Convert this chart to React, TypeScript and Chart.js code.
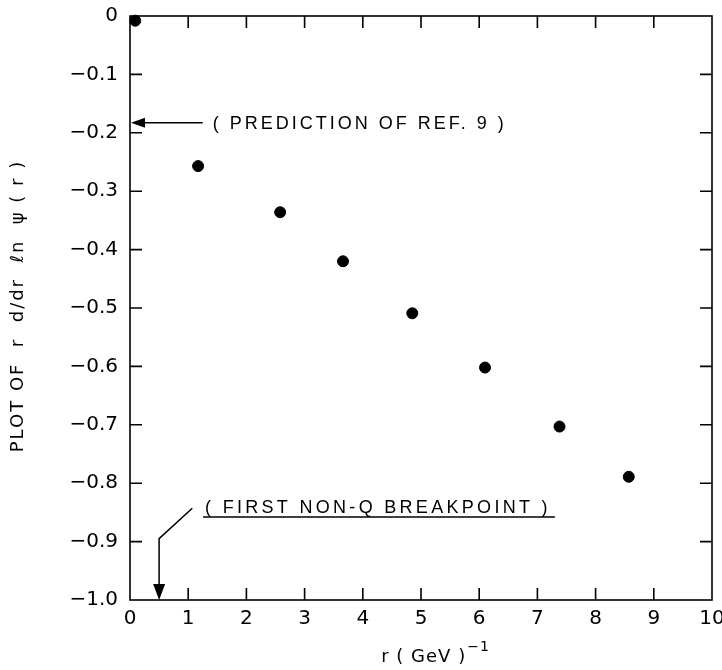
import React, { useEffect, useRef } from 'react';
import { Chart, registerables } from 'chart.js';

Chart.register(...registerables);

// ---- data ----
const rValues = [0.09, 1.17, 2.58, 3.66, 4.85, 6.1, 7.38, 8.57];
const logDerivValues = [-0.008, -0.257, -0.336, -0.42, -0.509, -0.602, -0.703, -0.789];

const xTickValues = [0, 1, 2, 3, 4, 5, 6, 7, 8, 9, 10];
const xTickLabels = ['0', '1', '2', '3', '4', '5', '6', '7', '8', '9', '10'];
const yTickValues = [0, -0.1, -0.2, -0.3, -0.4, -0.5, -0.6, -0.7, -0.8, -0.9, -1.0];
const yTickLabels = ['0', '−0.1', '−0.2', '−0.3', '−0.4', '−0.5', '−0.6', '−0.7', '−0.8', '−0.9', '−1.0'];

const xAxisTitle = 'r ( GeV )';
const xAxisTitleExponent = '−1';
const yAxisTitle = 'PLOT OF  r  d/dr  ℓn  ψ ( r )';

// annotations
const predictionValue = -0.183;
const predictionArrowTailR = 1.25;
const predictionLabelR = 1.42;
const predictionLabel = '( PREDICTION OF REF. 9 )';

const breakpointR = 0.5;
const breakpointElbowY = -0.895;
const breakpointLeaderEnd = [1.07, -0.843];
const breakpointLabelPos = [1.29, -0.842];
const breakpointUnderlineY = -0.858;
const breakpointLabel = '( FIRST NON-Q BREAKPOINT )';

const FONT = '"Liberation Sans", Arial, sans-serif';
const TICK_FONT = '"DejaVu Sans", sans-serif';

function arrowHead(ctx: CanvasRenderingContext2D, tx: number, ty: number, dx: number, dy: number, len: number, half: number) {
  const n = Math.hypot(dx, dy);
  const ux = dx / n, uy = dy / n;
  const bx = tx - ux * len, by = ty - uy * len;
  ctx.beginPath();
  ctx.moveTo(tx, ty);
  ctx.lineTo(bx - uy * half, by + ux * half);
  ctx.lineTo(bx + uy * half, by - ux * half);
  ctx.closePath();
  ctx.fill();
}

const framePlugin = {
  id: 'frameAndTicks',
  afterDatasetsDraw(chart: any) {
    const { ctx, chartArea: a, scales } = chart;
    const xs = scales.x, ys = scales.y;
    ctx.save();
    ctx.strokeStyle = '#000';
    ctx.fillStyle = '#000';
    ctx.lineWidth = 1.6;
    // frame
    ctx.strokeRect(a.left, a.top, a.right - a.left, a.bottom - a.top);
    // inward ticks
    const L = 12;
    ctx.beginPath();
    xTickValues.forEach((v) => {
      if (v === xTickValues[0] || v === xTickValues[xTickValues.length - 1]) return;
      const p = xs.getPixelForValue(v);
      ctx.moveTo(p, a.bottom); ctx.lineTo(p, a.bottom - L);
      ctx.moveTo(p, a.top); ctx.lineTo(p, a.top + L);
    });
    yTickValues.forEach((v) => {
      if (v === yTickValues[0] || v === yTickValues[yTickValues.length - 1]) return;
      const p = ys.getPixelForValue(v);
      ctx.moveTo(a.left, p); ctx.lineTo(a.left + L, p);
      ctx.moveTo(a.right, p); ctx.lineTo(a.right - L, p);
    });
    ctx.stroke();

    // prediction arrow
    ctx.lineWidth = 1.5;
    const py = ys.getPixelForValue(predictionValue);
    const tail = xs.getPixelForValue(predictionArrowTailR);
    const tip = xs.getPixelForValue(0);
    ctx.beginPath();
    ctx.moveTo(tail, py); ctx.lineTo(tip + 10, py);
    ctx.stroke();
    arrowHead(ctx, tip + 1, py, -1, 0, 14, 5);

    ctx.font = `18px ${FONT}`;
    (ctx as any).letterSpacing = '3px';
    ctx.textBaseline = 'middle';
    ctx.textAlign = 'left';
    ctx.fillText(predictionLabel, xs.getPixelForValue(predictionLabelR), py + 1);

    // breakpoint annotation
    const bx = xs.getPixelForValue(breakpointR);
    const elbowY = ys.getPixelForValue(breakpointElbowY);
    const bottom = ys.getPixelForValue(-1);
    ctx.beginPath();
    ctx.moveTo(xs.getPixelForValue(breakpointLeaderEnd[0]), ys.getPixelForValue(breakpointLeaderEnd[1]));
    ctx.lineTo(bx, elbowY);
    ctx.lineTo(bx, bottom - 12);
    ctx.stroke();
    arrowHead(ctx, bx, bottom, 0, 1, 16, 6);

    (ctx as any).letterSpacing = '3.3px';
    const lx = xs.getPixelForValue(breakpointLabelPos[0]);
    const ly = ys.getPixelForValue(breakpointLabelPos[1]);
    ctx.fillText(breakpointLabel, lx, ly);
    const w = ctx.measureText(breakpointLabel).width;
    const uy = ys.getPixelForValue(breakpointUnderlineY);
    ctx.beginPath();
    ctx.moveTo(lx - 2, uy); ctx.lineTo(lx + w + 4, uy);
    ctx.stroke();

    // axis titles
    ctx.font = `18px ${TICK_FONT}`;
    (ctx as any).letterSpacing = '2px';
    ctx.textAlign = 'center';
    ctx.textBaseline = 'middle';
    ctx.save();
    ctx.translate(a.left - 112, (a.top + a.bottom) / 2 - 2);
    ctx.rotate(-Math.PI / 2);
    ctx.fillText(yAxisTitle, 0, 0);
    ctx.restore();

    (ctx as any).letterSpacing = '1px';
    const cx = (a.left + a.right) / 2 + 14;
    const tw = ctx.measureText(xAxisTitle).width;
    ctx.font = `14px ${TICK_FONT}`;
    const ew = ctx.measureText(xAxisTitleExponent).width;
    const startX = cx - (tw + ew) / 2;
    ctx.textAlign = 'left';
    ctx.font = `18px ${TICK_FONT}`;
    ctx.fillText(xAxisTitle, startX, a.bottom + 57);
    ctx.font = `14px ${TICK_FONT}`;
    ctx.fillText(xAxisTitleExponent, startX + tw + 1, a.bottom + 47);
    ctx.restore();
  },
};

export default function App() {
  const ref = useRef<HTMLCanvasElement | null>(null);
  useEffect(() => {
    if (!ref.current) return;
    const chart = new Chart(ref.current, {
      type: 'scatter',
      data: {
        datasets: [
          {
            data: rValues.map((r, i) => ({ x: r, y: logDerivValues[i] })),
            backgroundColor: '#000',
            borderColor: '#000',
            pointRadius: 5.5,
            pointHoverRadius: 5.5,
            clip: false as any,
          },
        ],
      },
      options: {
        animation: false,
        responsive: false,
        events: [],
        layout: { padding: { top: 16, right: 10, left: 0, bottom: 0 } },
        plugins: { legend: { display: false }, tooltip: { enabled: false } },
        scales: {
          x: {
            type: 'linear',
            min: 0,
            max: 10,
            afterBuildTicks: (s: any) => { s.ticks = xTickValues.map((v) => ({ value: v })); },
            afterFit: (s: any) => { s.height = 70; s.paddingLeft = 0; s.paddingRight = 0; },
            grid: { display: false, drawTicks: false },
            border: { display: false },
            ticks: {
              padding: 7,
              color: '#000',
              font: { family: TICK_FONT, size: 20 },
              maxRotation: 0,
              callback: (v: any) => { const i = xTickValues.indexOf(Number(v)); return i >= 0 ? xTickLabels[i] : ''; },
            },
            title: { display: false },
          },
          y: {
            type: 'linear',
            min: -1,
            max: 0,
            afterBuildTicks: (s: any) => { s.ticks = yTickValues.map((v) => ({ value: v })); },
            afterFit: (s: any) => { s.width = 130; s.paddingTop = 0; s.paddingBottom = 0; },
            grid: { display: false, drawTicks: false },
            border: { display: false },
            ticks: {
              padding: 12,
              color: '#000',
              font: { family: TICK_FONT, size: 20 },
              callback: (v: any) => {
                const i = yTickValues.findIndex((t) => Math.abs(t - Number(v)) < 1e-6);
                return i >= 0 ? yTickLabels[i] : '';
              },
            },
            title: { display: false },
          },
        },
      },
      plugins: [framePlugin],
    });
    return () => chart.destroy();
  }, []);
  return (
    <div style={{ position: 'absolute', left: 0, top: 0, width: 722, height: 670, background: '#fff' }}>
      <canvas ref={ref} width={722} height={670} />
    </div>
  );
}
